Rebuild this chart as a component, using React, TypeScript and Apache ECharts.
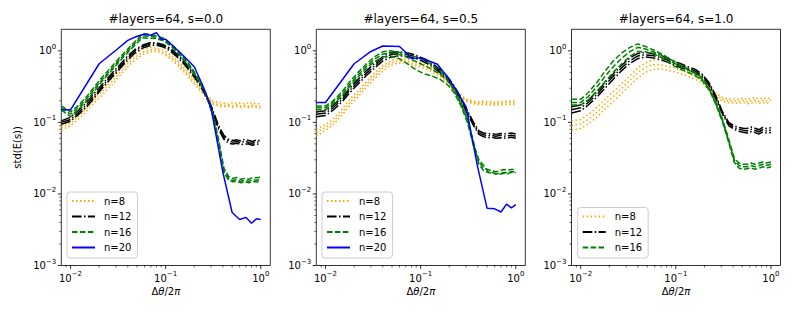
import React, { useEffect, useRef } from 'react';
import * as echarts from 'echarts';

const FONT = 'DejaVu Sans';

// shared abscissa of the sampled curves (n=8,12,16)
const X = [0.008, 0.01, 0.012, 0.015, 0.018, 0.022, 0.027, 0.033, 0.04, 0.048, 0.057, 0.068, 0.08, 0.095, 0.113, 0.135, 0.16, 0.19, 0.225, 0.265, 0.31, 0.36, 0.41, 0.46, 0.51, 0.56, 0.62, 0.68, 0.75, 0.82, 0.9, 1.0];
// abscissa of the n=20 curve
const BLUE_X = [0.008, 0.01, 0.02, 0.03, 0.04, 0.05, 0.06, 0.07, 0.08, 0.09, 0.1, 0.15, 0.2, 0.25, 0.3, 0.4, 0.5, 0.6, 0.7, 0.8, 0.9, 1.0];

// ---- panel 1 : s=0.0
const P1_N8 = [
  [0.09, 0.105, 0.13, 0.175, 0.23, 0.31, 0.41, 0.55, 0.72, 0.9, 1.05, 1.12, 1.1, 1.02, 0.88, 0.71, 0.56, 0.43, 0.33, 0.25, 0.2, 0.19, 0.185, 0.18, 0.19, 0.183, 0.188, 0.18, 0.192, 0.182, 0.185, 0.178],
  [0.085, 0.097, 0.12, 0.16, 0.21, 0.28, 0.37, 0.5, 0.66, 0.82, 0.95, 1.03, 1.05, 0.96, 0.82, 0.66, 0.52, 0.4, 0.31, 0.24, 0.19, 0.178, 0.172, 0.175, 0.17, 0.176, 0.17, 0.174, 0.168, 0.175, 0.17, 0.166],
  [0.078, 0.09, 0.11, 0.145, 0.19, 0.25, 0.33, 0.45, 0.6, 0.75, 0.88, 0.97, 0.99, 0.9, 0.77, 0.62, 0.49, 0.37, 0.29, 0.225, 0.182, 0.17, 0.165, 0.168, 0.162, 0.166, 0.163, 0.168, 0.16, 0.165, 0.162, 0.158],
];
const P1_N12 = [
  [0.105, 0.118, 0.145, 0.195, 0.26, 0.35, 0.48, 0.64, 0.85, 1.05, 1.2, 1.3, 1.3, 1.22, 1.07, 0.88, 0.69, 0.51, 0.37, 0.25, 0.155, 0.09, 0.066, 0.058, 0.056, 0.057, 0.055, 0.058, 0.056, 0.054, 0.057, 0.055],
  [0.1, 0.11, 0.135, 0.18, 0.24, 0.33, 0.45, 0.6, 0.8, 1.0, 1.15, 1.24, 1.26, 1.18, 1.03, 0.84, 0.66, 0.49, 0.36, 0.24, 0.15, 0.085, 0.062, 0.055, 0.053, 0.054, 0.052, 0.055, 0.052, 0.051, 0.054, 0.052],
  [0.094, 0.104, 0.127, 0.168, 0.225, 0.31, 0.42, 0.56, 0.75, 0.94, 1.09, 1.18, 1.2, 1.13, 0.98, 0.8, 0.63, 0.47, 0.345, 0.232, 0.145, 0.08, 0.058, 0.051, 0.05, 0.051, 0.049, 0.05, 0.05, 0.048, 0.05, 0.049],
];
const P1_N16 = [
  [0.17, 0.14, 0.17, 0.235, 0.32, 0.44, 0.6, 0.81, 1.06, 1.36, 1.75, 1.7, 1.62, 1.5, 1.27, 1.01, 0.77, 0.57, 0.39, 0.255, 0.14, 0.058, 0.023, 0.0175, 0.0165, 0.017, 0.016, 0.0165, 0.016, 0.017, 0.0168, 0.0172],
  [0.16, 0.13, 0.16, 0.22, 0.3, 0.41, 0.56, 0.76, 1.0, 1.3, 1.62, 1.6, 1.55, 1.44, 1.22, 0.97, 0.74, 0.55, 0.38, 0.25, 0.135, 0.055, 0.021, 0.0163, 0.0155, 0.0158, 0.015, 0.0155, 0.015, 0.0158, 0.0155, 0.016],
  [0.15, 0.12, 0.15, 0.205, 0.28, 0.39, 0.53, 0.72, 0.95, 1.22, 1.52, 1.5, 1.48, 1.38, 1.17, 0.93, 0.71, 0.53, 0.37, 0.245, 0.13, 0.052, 0.02, 0.0155, 0.0148, 0.015, 0.0143, 0.0148, 0.0143, 0.015, 0.0147, 0.015],
];
const P1_N20 = [0.15, 0.15, 0.66, 1.02, 1.4, 1.6, 1.7, 1.65, 1.8, 1.45, 1.45, 0.88, 0.6, 0.31, 0.16, 0.02, 0.0055, 0.0044, 0.0047, 0.0039, 0.0045, 0.0044];

// ---- panel 2 : s=0.5
const P2_N8 = [
  [0.08, 0.093, 0.11, 0.155, 0.21, 0.275, 0.37, 0.49, 0.62, 0.72, 0.78, 0.77, 0.73, 0.69, 0.64, 0.56, 0.49, 0.4, 0.305, 0.24, 0.208, 0.198, 0.193, 0.2, 0.192, 0.196, 0.19, 0.198, 0.195, 0.2, 0.196, 0.2],
  [0.072, 0.085, 0.1, 0.14, 0.19, 0.25, 0.34, 0.45, 0.57, 0.67, 0.72, 0.72, 0.68, 0.64, 0.6, 0.53, 0.46, 0.38, 0.29, 0.23, 0.2, 0.19, 0.185, 0.19, 0.183, 0.186, 0.18, 0.188, 0.185, 0.19, 0.186, 0.19],
  [0.064, 0.077, 0.092, 0.127, 0.172, 0.228, 0.31, 0.41, 0.52, 0.62, 0.67, 0.68, 0.64, 0.6, 0.56, 0.5, 0.435, 0.36, 0.275, 0.22, 0.192, 0.182, 0.177, 0.18, 0.174, 0.178, 0.172, 0.178, 0.175, 0.18, 0.177, 0.18],
];
const P2_N12 = [
  [0.14, 0.145, 0.172, 0.225, 0.3, 0.4, 0.53, 0.67, 0.83, 0.94, 0.97, 0.95, 0.91, 0.84, 0.76, 0.65, 0.545, 0.44, 0.325, 0.22, 0.147, 0.1, 0.076, 0.071, 0.069, 0.07, 0.068, 0.07, 0.069, 0.07, 0.071, 0.069],
  [0.13, 0.135, 0.16, 0.21, 0.28, 0.37, 0.49, 0.62, 0.78, 0.88, 0.91, 0.9, 0.86, 0.8, 0.72, 0.62, 0.52, 0.42, 0.31, 0.21, 0.14, 0.095, 0.072, 0.067, 0.065, 0.066, 0.064, 0.066, 0.064, 0.065, 0.066, 0.064],
  [0.12, 0.125, 0.148, 0.195, 0.26, 0.345, 0.455, 0.58, 0.72, 0.81, 0.85, 0.85, 0.81, 0.76, 0.68, 0.59, 0.495, 0.4, 0.295, 0.2, 0.133, 0.09, 0.068, 0.063, 0.061, 0.062, 0.06, 0.061, 0.06, 0.061, 0.062, 0.06],
];
const P2_N16 = [
  [0.17, 0.17, 0.2, 0.27, 0.37, 0.5, 0.66, 0.83, 0.97, 1.0, 0.96, 0.92, 0.86, 0.8, 0.72, 0.62, 0.52, 0.42, 0.3, 0.19, 0.115, 0.053, 0.028, 0.023, 0.022, 0.021, 0.0205, 0.021, 0.022, 0.0215, 0.022, 0.022],
  [0.16, 0.16, 0.19, 0.25, 0.34, 0.46, 0.61, 0.77, 0.9, 0.93, 0.9, 0.84, 0.76, 0.68, 0.61, 0.54, 0.47, 0.39, 0.28, 0.18, 0.11, 0.05, 0.026, 0.021, 0.02, 0.0195, 0.019, 0.0195, 0.02, 0.0198, 0.0205, 0.0205],
  [0.15, 0.15, 0.18, 0.235, 0.32, 0.43, 0.57, 0.71, 0.82, 0.84, 0.8, 0.7, 0.6, 0.52, 0.47, 0.44, 0.4, 0.34, 0.26, 0.17, 0.1, 0.047, 0.03, 0.025, 0.0205, 0.02, 0.0192, 0.0188, 0.0195, 0.0192, 0.02, 0.0198],
];
const P2_N20 = [0.19, 0.19, 0.66, 0.98, 1.17, 1.16, 1.15, 0.95, 0.78, 0.79, 0.8, 0.65, 0.4, 0.25, 0.165, 0.023, 0.0063, 0.0062, 0.0056, 0.0072, 0.0064, 0.0071];

// ---- panel 3 : s=1.0
const P3_N8 = [
  [0.105, 0.11, 0.128, 0.165, 0.21, 0.27, 0.35, 0.45, 0.58, 0.68, 0.74, 0.75, 0.71, 0.66, 0.6, 0.54, 0.48, 0.41, 0.32, 0.255, 0.222, 0.212, 0.215, 0.21, 0.218, 0.21, 0.215, 0.222, 0.212, 0.22, 0.215, 0.222],
  [0.09, 0.095, 0.11, 0.14, 0.18, 0.23, 0.3, 0.39, 0.5, 0.59, 0.64, 0.64, 0.61, 0.58, 0.54, 0.49, 0.44, 0.38, 0.3, 0.24, 0.21, 0.2, 0.2, 0.198, 0.202, 0.195, 0.2, 0.205, 0.198, 0.205, 0.2, 0.205],
  [0.078, 0.082, 0.095, 0.12, 0.155, 0.195, 0.255, 0.33, 0.42, 0.5, 0.55, 0.56, 0.54, 0.51, 0.48, 0.44, 0.4, 0.35, 0.28, 0.225, 0.198, 0.188, 0.186, 0.185, 0.19, 0.182, 0.186, 0.19, 0.184, 0.19, 0.186, 0.19],
];
const P3_N12 = [
  [0.165, 0.175, 0.205, 0.27, 0.36, 0.48, 0.63, 0.8, 0.92, 0.95, 0.92, 0.87, 0.8, 0.72, 0.66, 0.6, 0.55, 0.47, 0.355, 0.23, 0.14, 0.1, 0.09, 0.085, 0.083, 0.082, 0.086, 0.083, 0.079, 0.085, 0.082, 0.084],
  [0.15, 0.16, 0.19, 0.25, 0.33, 0.44, 0.58, 0.73, 0.85, 0.88, 0.86, 0.81, 0.75, 0.68, 0.62, 0.57, 0.52, 0.45, 0.34, 0.22, 0.135, 0.095, 0.085, 0.08, 0.078, 0.076, 0.08, 0.077, 0.074, 0.079, 0.076, 0.078],
  [0.135, 0.145, 0.175, 0.23, 0.3, 0.4, 0.53, 0.67, 0.78, 0.82, 0.8, 0.76, 0.7, 0.64, 0.58, 0.54, 0.49, 0.43, 0.325, 0.21, 0.13, 0.09, 0.08, 0.075, 0.073, 0.071, 0.074, 0.072, 0.069, 0.073, 0.071, 0.072],
];
const P3_N16 = [
  [0.21, 0.21, 0.26, 0.37, 0.52, 0.72, 0.94, 1.12, 1.25, 1.15, 1.04, 0.93, 0.82, 0.72, 0.63, 0.56, 0.5, 0.42, 0.3, 0.19, 0.11, 0.058, 0.032, 0.027, 0.026, 0.026, 0.027, 0.026, 0.027, 0.028, 0.027, 0.028],
  [0.19, 0.19, 0.23, 0.32, 0.44, 0.6, 0.79, 0.98, 1.12, 1.06, 0.98, 0.89, 0.78, 0.68, 0.6, 0.54, 0.48, 0.4, 0.29, 0.18, 0.105, 0.055, 0.03, 0.025, 0.024, 0.024, 0.025, 0.024, 0.025, 0.026, 0.025, 0.026],
  [0.175, 0.175, 0.205, 0.28, 0.37, 0.5, 0.66, 0.84, 0.98, 0.97, 0.91, 0.83, 0.72, 0.62, 0.55, 0.5, 0.45, 0.38, 0.28, 0.175, 0.1, 0.052, 0.028, 0.023, 0.022, 0.0225, 0.023, 0.0222, 0.023, 0.024, 0.023, 0.024],
];

const TITLES = ['#layers=64, s=0.0', '#layers=64, s=0.5', '#layers=64, s=1.0'];
const LEGEND_NAMES = [
  ['n=8', 'n=12', 'n=16', 'n=20'],
  ['n=8', 'n=12', 'n=16', 'n=20'],
  ['n=8', 'n=12', 'n=16'],
];

const X_MAJOR = [0.01, 0.1, 1];
const X_MINOR = [0.009, 0.02, 0.03, 0.04, 0.05, 0.06, 0.07, 0.08, 0.09, 0.2, 0.3, 0.4, 0.5, 0.6, 0.7, 0.8, 0.9];
const Y_MAJOR = [0.001, 0.01, 0.1, 1];
const Y_MINOR = [0.002, 0.003, 0.004, 0.005, 0.006, 0.007, 0.008, 0.009, 0.02, 0.03, 0.04, 0.05, 0.06, 0.07, 0.08, 0.09, 0.2, 0.3, 0.4, 0.5, 0.6, 0.7, 0.8, 0.9];

const X_MIN = 0.008;
const X_MAX = 1.26;
const Y_MIN = 0.001;
const Y_MAX = 2.0;

const GRID_LEFT = [61.3, 316.3, 571.5];
const GRID_TOP = 29.3;
const GRID_W = 209;
const GRID_H = 236.2;
const LEGEND_POS = [
  { left: 67, top: 192 },
  { left: 322, top: 192 },
  { left: 577.7, top: 207.5 },
];

const STYLE: Record<string, { color: string; type: any; z: number }> = {
  'n=8': { color: '#ffa500', type: [1.5, 2.5], z: 2 },
  'n=12': { color: '#000000', type: [9.6, 2.4, 1.5, 2.4], z: 3 },
  'n=16': { color: '#008000', type: [5.5, 2.4], z: 4 },
  'n=20': { color: '#0000ff', type: 'solid', z: 5 },
};

const PANELS = [
  { n8: P1_N8, n12: P1_N12, n16: P1_N16, n20: P1_N20 },
  { n8: P2_N8, n12: P2_N12, n16: P2_N16, n20: P2_N20 },
  { n8: P3_N8, n12: P3_N12, n16: P3_N16, n20: null as number[] | null },
];

const powLabel = (v: number) => {
  const e = Math.round(Math.log10(v));
  if (Math.abs(v / Math.pow(10, e) - 1) > 1e-6) return '';
  const s = e < 0 ? '\u2212' + -e : String(e);
  return `{b|10}{s|${s}}`;
};

const RICH = {
  b: { fontSize: 10, fontFamily: FONT, color: '#000' },
  s: { fontSize: 7, fontFamily: FONT, color: '#000', padding: [0, 0, 8, 0] },
};

function lineSeries(name: string, xs: number[], ys: number[], p: number) {
  const st = STYLE[name];
  return {
    type: 'line',
    name,
    xAxisIndex: p,
    yAxisIndex: p,
    data: xs.map((x, i) => [x, ys[i]]),
    symbol: 'none',
    showSymbol: false,
    silent: true,
    z: st.z,
    lineStyle: { color: st.color, width: 1.5, type: st.type },
    itemStyle: { color: st.color },
  };
}

function tickSeries(p: number, axis: 'x' | 'y') {
  const major = axis === 'x' ? X_MAJOR : Y_MAJOR;
  const minor = axis === 'x' ? X_MINOR : Y_MINOR;
  const data = [
    ...major.map((v) => (axis === 'x' ? [v, 3.5] : [3.5, v])),
    ...minor.map((v) => (axis === 'x' ? [v, 2] : [2, v])),
  ];
  return {
    type: 'custom',
    xAxisIndex: p,
    yAxisIndex: p,
    silent: true,
    clip: false,
    z: 10,
    data,
    renderItem: (_params: any, api: any) => {
      if (axis === 'x') {
        const v = api.value(0);
        const len = api.value(1);
        const pt = api.coord([v, Y_MIN]);
        return {
          type: 'line',
          shape: { x1: pt[0], y1: pt[1], x2: pt[0], y2: pt[1] + len },
          style: { stroke: '#000', lineWidth: len > 3 ? 0.8 : 0.6 },
        };
      }
      const len = api.value(0);
      const v = api.value(1);
      const pt = api.coord([X_MIN, v]);
      return {
        type: 'line',
        shape: { x1: pt[0] - len, y1: pt[1], x2: pt[0], y2: pt[1] },
        style: { stroke: '#000', lineWidth: len > 3 ? 0.8 : 0.6 },
      };
    },
  };
}

export default function App() {
  const ref = useRef<HTMLDivElement>(null);
  useEffect(() => {
    document.body.style.margin = '0';
    if (!ref.current) return;
    const chart = echarts.init(ref.current, undefined, { renderer: 'svg' });

    const grids: any[] = [];
    const xAxes: any[] = [];
    const yAxes: any[] = [];
    const series: any[] = [];
    const titles: any[] = [];
    const legends: any[] = [];
    const graphics: any[] = [];

    PANELS.forEach((panel, p) => {
      grids.push({
        left: GRID_LEFT[p],
        top: GRID_TOP,
        width: GRID_W,
        height: GRID_H,
        show: true,
        borderColor: '#000',
        borderWidth: 0.8,
        backgroundColor: 'transparent',
      });
      xAxes.push({
        type: 'log',
        logBase: 10,
        gridIndex: p,
        min: X_MIN,
        max: X_MAX,
        axisLine: { show: false },
        axisTick: { show: false },
        splitLine: { show: false },
        minorTick: { show: false },
        axisLabel: {
          margin: 5,
          formatter: powLabel,
          rich: RICH,
          showMinLabel: true,
          showMaxLabel: true,
        },
      });
      yAxes.push({
        type: 'log',
        logBase: 10,
        gridIndex: p,
        min: Y_MIN,
        max: Y_MAX,
        axisLine: { show: false },
        axisTick: { show: false },
        splitLine: { show: false },
        minorTick: { show: false },
        axisLabel: {
          margin: 5,
          formatter: powLabel,
          rich: RICH,
          showMinLabel: true,
          showMaxLabel: true,
        },
      });
      panel.n8.forEach((ys) => series.push(lineSeries('n=8', X, ys, p)));
      panel.n12.forEach((ys) => series.push(lineSeries('n=12', X, ys, p)));
      panel.n16.forEach((ys) => series.push(lineSeries('n=16', X, ys, p)));
      if (panel.n20) series.push(lineSeries('n=20', BLUE_X, panel.n20, p));
      series.push(tickSeries(p, 'x'));
      series.push(tickSeries(p, 'y'));

      const cx = GRID_LEFT[p] + GRID_W / 2;
      titles.push({
        text: TITLES[p],
        left: cx,
        top: 13,
        textAlign: 'center',
        padding: 0,
        textStyle: { fontFamily: FONT, fontSize: 12, fontWeight: 'normal', color: '#000' },
      });
      legends.push({
        data: LEGEND_NAMES[p],
        orient: 'vertical',
        left: LEGEND_POS[p].left,
        top: LEGEND_POS[p].top,
        itemWidth: 23,
        itemHeight: 10,
        itemGap: 5.5,
        padding: [4, 6, 5.5, 4],
        selectedMode: false,
        backgroundColor: 'rgba(255,255,255,0.8)',
        borderColor: '#cccccc',
        borderWidth: 1,
        borderRadius: 3,
        itemStyle: { opacity: 0 },
        textStyle: { fontFamily: FONT, fontSize: 10, color: '#000', padding: [0, 0, 0, 4], lineHeight: 10 },
      });
      graphics.push({
        type: 'text',
        x: cx,
        y: 291.5,
        style: {
          text: '{n|\u0394}{i|\u03b8}{n|/2}{i|\u03c0}',
          rich: {
            n: { fontFamily: FONT, fontSize: 10, fill: '#000', color: '#000' },
            i: { fontFamily: FONT, fontSize: 10, fontStyle: 'italic', fill: '#000', color: '#000' },
          },
          align: 'center',
          verticalAlign: 'middle',
          textAlign: 'center',
          textVerticalAlign: 'middle',
        },
      });
    });

    graphics.push({
      type: 'text',
      x: 17.5,
      y: GRID_TOP + GRID_H / 2,
      rotation: Math.PI / 2,
      style: {
        text: 'std(E(s))',
        fontFamily: FONT,
        fontSize: 10,
        fill: '#000',
        align: 'center',
        verticalAlign: 'middle',
        textAlign: 'center',
        textVerticalAlign: 'middle',
      },
    });

    chart.setOption({
      animation: false,
      backgroundColor: '#ffffff',
      textStyle: { fontFamily: FONT },
      title: titles,
      legend: legends,
      grid: grids,
      xAxis: xAxes,
      yAxis: yAxes,
      series,
      graphic: graphics,
    });
    return () => chart.dispose();
  }, []);
  return <div ref={ref} style={{ width: 793, height: 317 }} />;
}
